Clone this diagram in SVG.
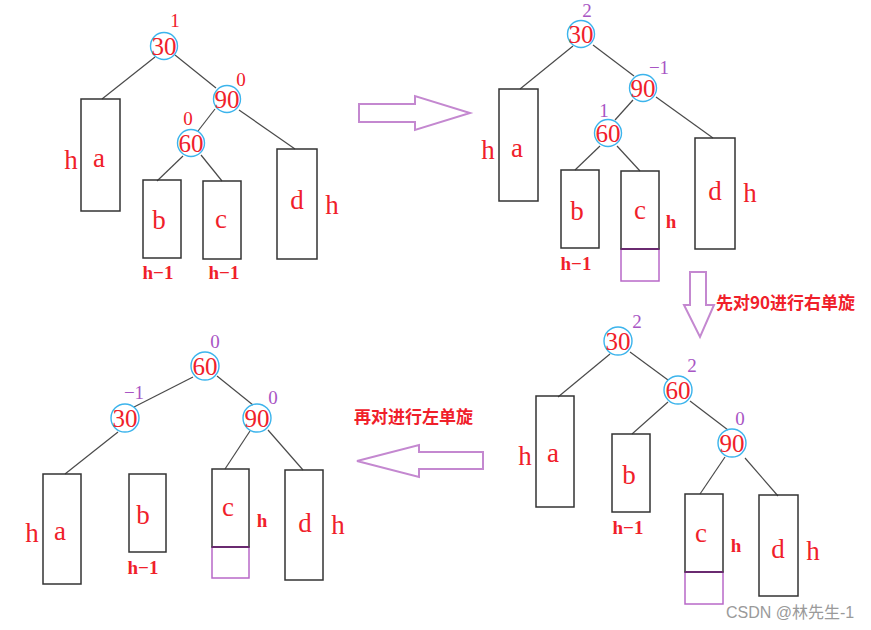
<svg xmlns="http://www.w3.org/2000/svg" width="871" height="630" viewBox="0 0 871 630">
<style>
.bg{fill:#fff}
.nd{fill:none;stroke:#3cb4ec;stroke-width:1.4}
.nt{font-family:"Liberation Serif",serif;font-size:25px;fill:#f0202a;text-anchor:middle;dominant-baseline:central}
.bx{fill:none;stroke:#333;stroke-width:1.5}
.bl{font-family:"Liberation Serif",serif;font-size:27px;fill:#f0202a;text-anchor:middle;dominant-baseline:central}
.hs{font-family:"Liberation Serif",serif;font-size:19px;font-weight:bold;fill:#f0202a;text-anchor:middle;dominant-baseline:central}
.bf{font-family:"Liberation Serif",serif;font-size:19px;fill:#a855c4;text-anchor:middle;dominant-baseline:central}
.bfr{fill:#f0202a}
.ed{fill:none;stroke:#4a4a4a;stroke-width:1.2}
.pb{fill:none;stroke:#b868c8;stroke-width:1.5}
.pe{stroke:#6a2a70;stroke-width:2}
.ar{fill:none;stroke:#c488d0;stroke-width:2;stroke-linejoin:miter}
.cn{font-family:"Noto Sans CJK SC","Liberation Sans",sans-serif;font-size:17px;font-weight:bold;fill:#f0202a;dominant-baseline:central}
.wm{font-family:"Liberation Sans","Noto Sans CJK SC",sans-serif;font-size:16px;fill:#9a9a9a;dominant-baseline:central}
</style>
<rect class="bg" x="0" y="0" width="871" height="630"/>

<g id="connectors">
  <!-- tree 1 -->
  <path class="ed" d="M155,57 L102,99"/>
  <path class="ed" d="M175,55 L216,88"/>
  <path class="ed" d="M215,109 L198,131"/>
  <path class="ed" d="M239,110 L295,149"/>
  <path class="ed" d="M183,156 L157,181"/>
  <path class="ed" d="M201,155 L222,181"/>
  <!-- tree 2 -->
  <path class="ed" d="M573,46 L520,89"/>
  <path class="ed" d="M593,45 L634,76"/>
  <path class="ed" d="M633,100 L615,120"/>
  <path class="ed" d="M656,97 L713,138"/>
  <path class="ed" d="M600,146 L575,170"/>
  <path class="ed" d="M617,146 L640,171"/>
  <!-- tree 3 -->
  <path class="ed" d="M610,354 L558,397"/>
  <path class="ed" d="M630,352 L668,380"/>
  <path class="ed" d="M668,402 L632,434"/>
  <path class="ed" d="M690,401 L728,430"/>
  <path class="ed" d="M725,457 L700,494"/>
  <path class="ed" d="M745,458 L778,496"/>
  <!-- tree 4 -->
  <path class="ed" d="M193,377 L134,407"/>
  <path class="ed" d="M217,376 L253,405"/>
  <path class="ed" d="M118,432 L65,474"/>
  <path class="ed" d="M250,431 L225,469"/>
  <path class="ed" d="M268,430 L303,470"/>
  <!-- arrows -->
  <path class="ar" d="M359,104 L415,104 L415,96 L470,113 L415,130 L415,122 L359,122 Z"/>
  <path class="ar" d="M690,272 L706,272 L706,305 L714,305 L700,337 L684,305 L690,305 Z"/>
  <path class="ar" d="M483,452 L419,452 L419,445 L357,461 L419,477 L419,469 L483,469 Z"/>
</g>

<!-- ===== Tree 1 (top-left) ===== -->
<g id="t1-n30"><circle class="nd" cx="164" cy="46" r="13.5"/><text class="nt" x="164" y="46">30</text><text class="bf bfr" x="175" y="20">1</text></g>
<g id="t1-n90"><circle class="nd" cx="227" cy="99" r="13.5"/><text class="nt" x="227" y="99">90</text><text class="bf bfr" x="241" y="79">0</text></g>
<g id="t1-n60"><circle class="nd" cx="191" cy="143" r="13.5"/><text class="nt" x="191" y="143">60</text><text class="bf bfr" x="188" y="118">0</text></g>
<g id="t1-a"><rect class="bx" x="81" y="99" width="39" height="112"/><text class="bl" x="99" y="158">a</text><text class="bl" x="71" y="160">h</text></g>
<g id="t1-b"><rect class="bx" x="143" y="180" width="38" height="78"/><text class="bl" x="159" y="220">b</text><text class="hs" x="158" y="272">h−1</text></g>
<g id="t1-c"><rect class="bx" x="203" y="181" width="38" height="78"/><text class="bl" x="221" y="219">c</text><text class="hs" x="224" y="272">h−1</text></g>
<g id="t1-d"><rect class="bx" x="277" y="149" width="40" height="110"/><text class="bl" x="297" y="200">d</text><text class="bl" x="332" y="205">h</text></g>

<!-- ===== Tree 2 (top-right) ===== -->
<g id="t2-n30"><circle class="nd" cx="581" cy="34" r="13.5"/><text class="nt" x="581" y="34">30</text><text class="bf" x="587" y="10">2</text></g>
<g id="t2-n90"><circle class="nd" cx="643" cy="88" r="13.5"/><text class="nt" x="643" y="88">90</text><text class="bf" x="659" y="67">−1</text></g>
<g id="t2-n60"><circle class="nd" cx="608" cy="133" r="13.5"/><text class="nt" x="608" y="133">60</text><text class="bf" x="604" y="110">1</text></g>
<g id="t2-a"><rect class="bx" x="499" y="89" width="39" height="112"/><text class="bl" x="517" y="148">a</text><text class="bl" x="488" y="150">h</text></g>
<g id="t2-b"><rect class="bx" x="561" y="170" width="38" height="78"/><text class="bl" x="577" y="211">b</text><text class="hs" x="576" y="263">h−1</text></g>
<g id="t2-c"><rect class="pb" x="621" y="249" width="38" height="32"/><rect class="bx" x="621" y="171" width="38" height="78"/><line class="pe" x1="621" y1="249" x2="659" y2="249"/><text class="bl" x="640" y="210">c</text><text class="hs" x="671" y="221">h</text></g>
<g id="t2-d"><rect class="bx" x="695" y="138" width="40" height="111"/><text class="bl" x="715" y="191">d</text><text class="bl" x="750" y="193">h</text></g>

<!-- ===== Tree 3 (bottom-right) ===== -->
<g id="t3-n30"><circle class="nd" cx="618" cy="341" r="14"/><text class="nt" x="618" y="341">30</text><text class="bf" x="637" y="321">2</text></g>
<g id="t3-n60"><circle class="nd" cx="678" cy="390" r="14"/><text class="nt" x="678" y="390">60</text><text class="bf" x="692" y="365">2</text></g>
<g id="t3-n90"><circle class="nd" cx="732" cy="443" r="14"/><text class="nt" x="732" y="443">90</text><text class="bf" x="740" y="418">0</text></g>
<g id="t3-a"><rect class="bx" x="536" y="396" width="38" height="111"/><text class="bl" x="553" y="453">a</text><text class="bl" x="525" y="456">h</text></g>
<g id="t3-b"><rect class="bx" x="612" y="434" width="38" height="78"/><text class="bl" x="629" y="475">b</text><text class="hs" x="628" y="527">h−1</text></g>
<g id="t3-c"><rect class="pb" x="685" y="572" width="38" height="32"/><rect class="bx" x="685" y="494" width="38" height="78"/><line class="pe" x1="685" y1="572" x2="723" y2="572"/><text class="bl" x="701" y="533">c</text><text class="hs" x="736" y="545">h</text></g>
<g id="t3-d"><rect class="bx" x="759" y="495" width="39" height="101"/><text class="bl" x="778" y="549">d</text><text class="bl" x="813" y="551">h</text></g>

<!-- ===== Tree 4 (bottom-left) ===== -->
<g id="t4-n60"><circle class="nd" cx="205" cy="366" r="14"/><text class="nt" x="205" y="366">60</text><text class="bf" x="215" y="341">0</text></g>
<g id="t4-n30"><circle class="nd" cx="125" cy="418" r="14"/><text class="nt" x="125" y="418">30</text><text class="bf" x="134" y="392">−1</text></g>
<g id="t4-n90"><circle class="nd" cx="257" cy="418" r="14"/><text class="nt" x="257" y="418">90</text><text class="bf" x="273" y="397">0</text></g>
<g id="t4-a"><rect class="bx" x="43" y="474" width="38" height="110"/><text class="bl" x="60" y="531">a</text><text class="bl" x="32" y="533">h</text></g>
<g id="t4-b"><rect class="bx" x="129" y="474" width="37" height="78"/><text class="bl" x="143" y="515">b</text><text class="hs" x="143" y="567">h−1</text></g>
<g id="t4-c"><rect class="pb" x="212" y="547" width="37" height="31"/><rect class="bx" x="212" y="469" width="37" height="78"/><line class="pe" x1="212" y1="547" x2="249" y2="547"/><text class="bl" x="228" y="507">c</text><text class="hs" x="262" y="520">h</text></g>
<g id="t4-d"><rect class="bx" x="285" y="470" width="38" height="110"/><text class="bl" x="305" y="523">d</text><text class="bl" x="338" y="525">h</text></g>

<!-- labels -->
<text class="cn" x="716" y="301">先对90进行右单旋</text>
<text class="cn" x="354" y="415">再对进行左单旋</text>
<text class="wm" x="726" y="612">CSDN @林先生-1</text>
</svg>
